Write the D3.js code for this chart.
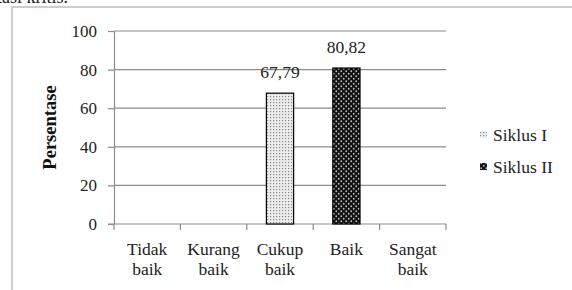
<!DOCTYPE html>
<html>
<head>
<meta charset="utf-8">
<script src="https://cdn.jsdelivr.net/npm/d3@7"></script>
<style>
  body { margin: 0; background: #fff; }
  svg text { font-family: 'Liberation Serif', 'Times New Roman', serif !important; }
</style>
</head>
<body>
<div id="chart"></div>
<script>
// categories and values
const categories = [["Tidak", "baik"], ["Kurang", "baik"], ["Cukup", "baik"], ["Baik"], ["Sangat", "baik"]];
const seriesNames = ["Siklus I", "Siklus II"];
const siklus1 = [null, null, 67.79, null, null];
const siklus2 = [null, null, null, 80.82, null];
const yTicks = [0, 20, 40, 60, 80, 100];

const width = 572, height = 290;
const svg = d3.select("#chart").append("svg")
    .attr("width", width)
    .attr("height", height);

// patterns for the two series
const defs = svg.append("defs");
const p1 = defs.append("pattern").attr("id", "pat1")
    .attr("width", 3).attr("height", 3).attr("patternUnits", "userSpaceOnUse");
p1.append("rect").attr("width", 3).attr("height", 3).attr("fill", "#ececec");
p1.append("rect").attr("width", 1.2).attr("height", 1.2).attr("fill", "#8a8a8a");

const p2 = defs.append("pattern").attr("id", "pat2")
    .attr("width", 5).attr("height", 5).attr("patternUnits", "userSpaceOnUse");
p2.append("rect").attr("width", 5).attr("height", 5).attr("fill", "#111");
p2.append("circle").attr("cx", 1.25).attr("cy", 1.25).attr("r", 0.9).attr("fill", "#bbb");
p2.append("circle").attr("cx", 3.75).attr("cy", 3.75).attr("r", 0.9).attr("fill", "#bbb");

const fills = ["url(#pat1)", "url(#pat2)"];

// cut-off text above the figure (tail of a sentence in the source page)
svg.append("text")
    .attr("x", -3).attr("y", 3)
    .style("font-size", "18px")
    .attr("fill", "#222")
    .text("tasi kritis.");

// outer frame
svg.append("rect")
    .attr("x", 12).attr("y", 7)
    .attr("width", 600).attr("height", 300)
    .attr("fill", "none")
    .attr("stroke", "#bdbdbd")
    .attr("stroke-width", 1.5);

const margin = { left: 114, right: 446, top: 31, bottom: 224 };

const x = d3.scaleBand()
    .domain(d3.range(categories.length))
    .range([margin.left, margin.right])
    .padding(0);

const y = d3.scaleLinear()
    .domain([0, 100])
    .range([margin.bottom, margin.top]);

// gridlines
svg.append("g")
    .selectAll("line")
    .data(yTicks.filter(d => d > 0))
    .join("line")
    .attr("x1", margin.left).attr("x2", margin.right)
    .attr("y1", d => y(d)).attr("y2", d => y(d))
    .attr("stroke", "#8c8c8c")
    .attr("stroke-width", 1.2);

// y axis
const yAxis = svg.append("g")
    .attr("transform", `translate(${margin.left},0)`)
    .call(d3.axisLeft(y).tickValues(yTicks).tickSize(6).tickPadding(11).tickSizeOuter(0))
    .attr("font-size", 17);
yAxis.select(".domain").attr("stroke", "#8c8c8c").attr("stroke-width", 1.2);
yAxis.selectAll(".tick line").attr("stroke", "#8c8c8c").attr("stroke-width", 1.2);
yAxis.selectAll("text").attr("fill", "#222");

// x axis
const xAxis = svg.append("g")
    .attr("transform", `translate(0,${margin.bottom})`);
xAxis.append("line")
    .attr("x1", margin.left - 6).attr("x2", margin.right)
    .attr("stroke", "#8c8c8c").attr("stroke-width", 1.2);
xAxis.selectAll(".xt")
    .data(d3.range(categories.length + 1))
    .join("line")
    .attr("class", "xt")
    .attr("x1", d => d < categories.length ? x(d) : margin.right)
    .attr("x2", d => d < categories.length ? x(d) : margin.right)
    .attr("y1", 0).attr("y2", 6)
    .attr("stroke", "#8c8c8c").attr("stroke-width", 1.2);

const labels = xAxis.selectAll(".xl")
    .data(categories)
    .join("text")
    .attr("class", "xl")
    .attr("text-anchor", "middle")
    .attr("fill", "#222")
    .style("font-size", "17.5px");
labels.selectAll("tspan")
    .data((d, i) => d.map(t => ({ t, i })))
    .join("tspan")
    .attr("x", d => x(d.i) + x.bandwidth() / 2)
    .attr("y", (d, j) => 31 + j * 20)
    .text(d => d.t);

// bars
const barW = x.bandwidth() * 0.41;
[siklus1, siklus2].forEach((series, s) => {
    const pts = series.map((v, i) => ({ v, i })).filter(d => d.v !== null);
    svg.append("g")
        .selectAll("rect")
        .data(pts)
        .join("rect")
        .attr("x", d => x(d.i) + x.bandwidth() / 2 - barW / 2)
        .attr("y", d => y(d.v))
        .attr("width", barW)
        .attr("height", d => y(0) - y(d.v))
        .attr("fill", fills[s])
        .attr("stroke", "#000")
        .attr("stroke-width", 1.2);
    svg.append("g")
        .selectAll("text")
        .data(pts)
        .join("text")
        .attr("x", d => x(d.i) + x.bandwidth() / 2)
        .attr("y", d => y(d.v) - 15)
        .attr("text-anchor", "middle")
        .attr("fill", "#222")
        .style("font-size", "17.5px")
        .text(d => d.v.toFixed(2).replace(".", ","));
});

// y axis title
svg.append("text")
    .attr("transform", `translate(56,${(margin.top + margin.bottom) / 2}) rotate(-90)`)
    .attr("text-anchor", "middle")
    .attr("fill", "#111")
    .style("font-size", "18.5px")
    .style("font-weight", "bold")
    .text("Persentase");

// legend
const legend = svg.append("g").attr("transform", "translate(480,135)");
seriesNames.forEach((name, i) => {
    const g = legend.append("g").attr("transform", `translate(0,${i * 32})`);
    g.append("rect")
        .attr("x", 0).attr("y", -4)
        .attr("width", 7).attr("height", 7)
        .attr("fill", fills[i]);
    g.append("text")
        .attr("x", 13).attr("y", 6)
        .attr("fill", "#222")
        .style("font-size", "17.5px")
        .text(name);
});
</script>
</body>
</html>
